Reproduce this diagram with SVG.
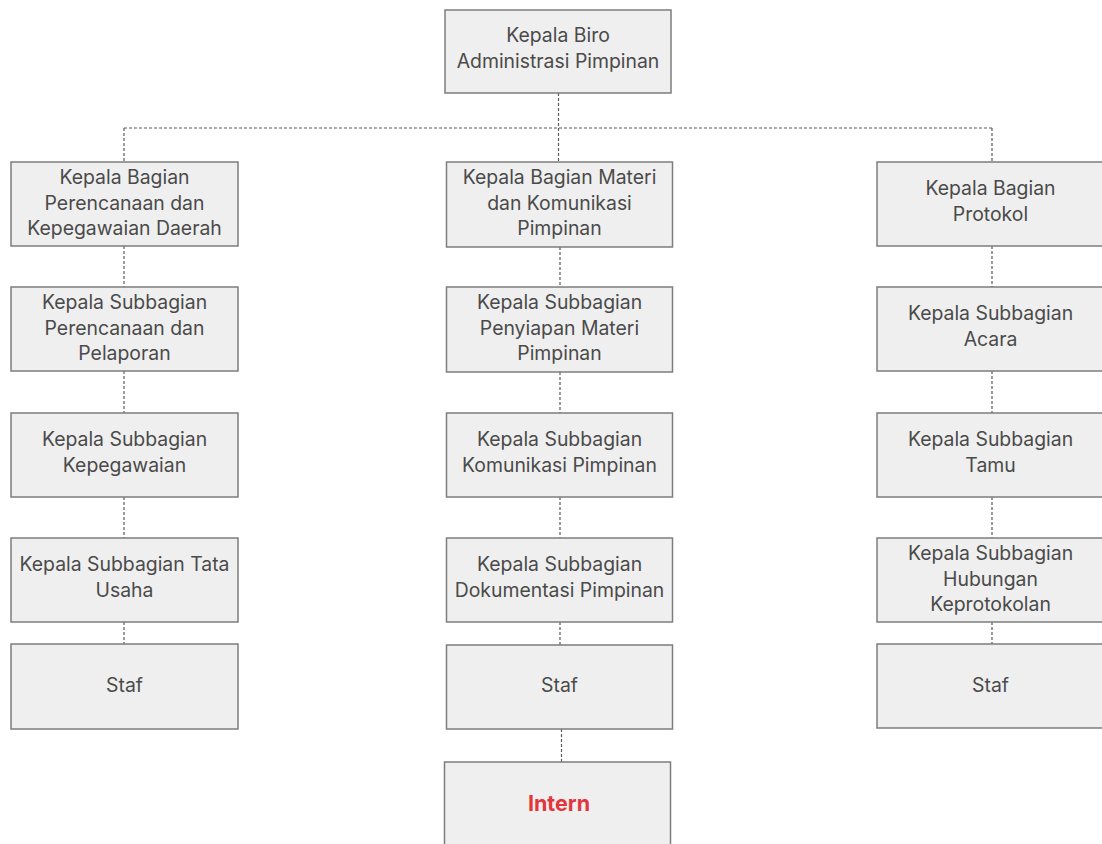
<svg xmlns="http://www.w3.org/2000/svg" width="1102" height="844" viewBox="0 0 1102 844">
<style>
.box{fill:#efefef;stroke:#7d7d7d;stroke-width:1.5}
.t{font-family:Inter,"Liberation Sans",sans-serif;font-size:19.4px;fill:#4a4a4a;text-anchor:middle}
.r{font-family:Inter,"Liberation Sans",sans-serif;font-size:21.5px;font-weight:bold;fill:#e2363c;text-anchor:middle}
.c{fill:none;stroke:#5a5a5a;stroke-width:1.2;stroke-dasharray:3 2}
</style>
<rect width="1102" height="844" fill="#ffffff"/>
<g id="connectors">
<path class="c" d="M558.5 93V128M124 128H992M124 128V162M558.5 128V162M992 128V162"/>
<path class="c" d="M124 246V287M124 371V413M124 497V538M124 622V644"/>
<path class="c" d="M560 247V287M560 372V413M560 497V538M560 622V645M561.5 729V762"/>
<path class="c" d="M992 246V287M992 371V413M992 497V538M992 622V644"/>
</g>
<g id="n-kepala-biro"><rect class="box" x="445" y="10" width="226" height="83"/><text class="t" x="558" y="42">Kepala Biro</text><text class="t" x="558" y="68">Administrasi Pimpinan</text></g>
<g id="n-bag-perencanaan"><rect class="box" x="11" y="162" width="227" height="84"/><text class="t" x="124.5" y="184">Kepala Bagian</text><text class="t" x="124.5" y="209.5">Perencanaan dan</text><text class="t" x="124.5" y="235">Kepegawaian Daerah</text></g>
<g id="n-sub-perencanaan"><rect class="box" x="11" y="287" width="227" height="84"/><text class="t" x="124.5" y="309">Kepala Subbagian</text><text class="t" x="124.5" y="334.5">Perencanaan dan</text><text class="t" x="124.5" y="360">Pelaporan</text></g>
<g id="n-sub-kepegawaian"><rect class="box" x="11" y="413" width="227" height="84"/><text class="t" x="124.5" y="446">Kepala Subbagian</text><text class="t" x="124.5" y="472">Kepegawaian</text></g>
<g id="n-sub-tatausaha"><rect class="box" x="11" y="538" width="227" height="84"/><text class="t" x="124.5" y="571">Kepala Subbagian Tata</text><text class="t" x="124.5" y="597">Usaha</text></g>
<g id="n-staf-1"><rect class="box" x="11" y="644" width="227" height="85"/><text class="t" x="124.5" y="692">Staf</text></g>
<g id="n-bag-materi"><rect class="box" x="446.5" y="162" width="226" height="85"/><text class="t" x="559.5" y="184">Kepala Bagian Materi</text><text class="t" x="559.5" y="209.5">dan Komunikasi</text><text class="t" x="559.5" y="235">Pimpinan</text></g>
<g id="n-sub-penyiapan"><rect class="box" x="446.5" y="287" width="226" height="85"/><text class="t" x="559.5" y="309">Kepala Subbagian</text><text class="t" x="559.5" y="334.5">Penyiapan Materi</text><text class="t" x="559.5" y="360">Pimpinan</text></g>
<g id="n-sub-komunikasi"><rect class="box" x="446.5" y="413" width="226" height="84"/><text class="t" x="559.5" y="446">Kepala Subbagian</text><text class="t" x="559.5" y="472">Komunikasi Pimpinan</text></g>
<g id="n-sub-dokumentasi"><rect class="box" x="446.5" y="538" width="226" height="84"/><text class="t" x="559.5" y="571">Kepala Subbagian</text><text class="t" x="559.5" y="597">Dokumentasi Pimpinan</text></g>
<g id="n-staf-2"><rect class="box" x="446.5" y="645" width="226" height="84"/><text class="t" x="559.5" y="692">Staf</text></g>
<g id="n-intern"><rect class="box" x="444.5" y="762" width="226" height="86"/><text class="r" x="559" y="811">Intern</text></g>
<g id="n-bag-protokol"><rect class="box" x="877" y="162" width="227" height="84"/><text class="t" x="990.5" y="195">Kepala Bagian</text><text class="t" x="990.5" y="220.5">Protokol</text></g>
<g id="n-sub-acara"><rect class="box" x="877" y="287" width="227" height="84"/><text class="t" x="990.5" y="320">Kepala Subbagian</text><text class="t" x="990.5" y="346">Acara</text></g>
<g id="n-sub-tamu"><rect class="box" x="877" y="413" width="227" height="84"/><text class="t" x="990.5" y="446">Kepala Subbagian</text><text class="t" x="990.5" y="472">Tamu</text></g>
<g id="n-sub-hubungan"><rect class="box" x="877" y="538" width="227" height="84"/><text class="t" x="990.5" y="560">Kepala Subbagian</text><text class="t" x="990.5" y="585.5">Hubungan</text><text class="t" x="990.5" y="611">Keprotokolan</text></g>
<g id="n-staf-3"><rect class="box" x="877" y="644" width="227" height="84"/><text class="t" x="990.5" y="692">Staf</text></g>
</svg>
